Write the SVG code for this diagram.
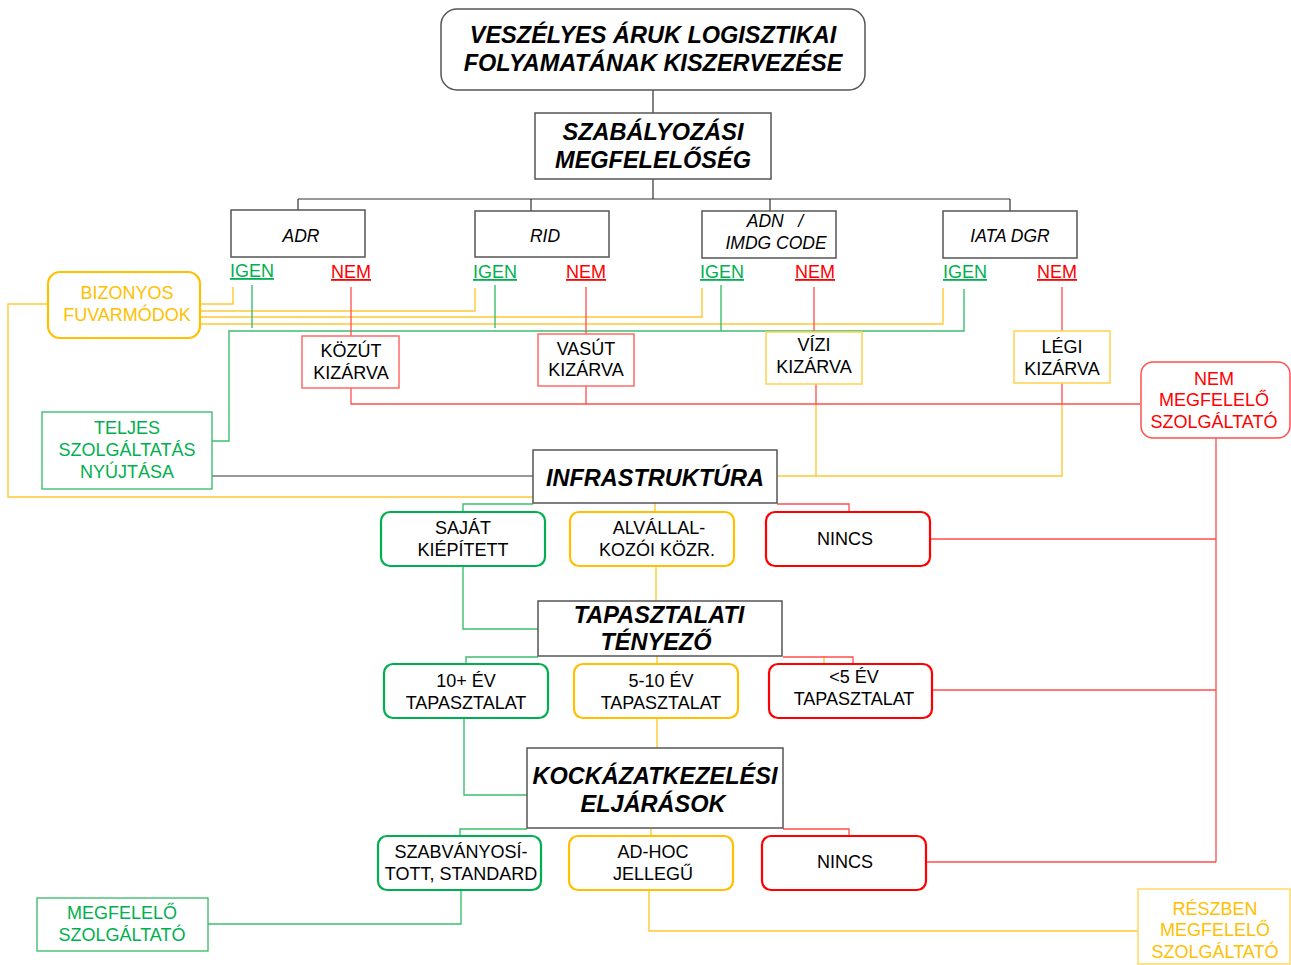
<svg xmlns="http://www.w3.org/2000/svg" width="1291" height="965" viewBox="0 0 1291 965">
<style>
text{font-family:"Liberation Sans",Arial,sans-serif;text-anchor:middle;font-size:18px;fill:#000}
.h{font-weight:bold;font-style:italic;font-size:23.5px}
.i{font-style:italic;font-size:17.5px}
.lab{font-size:18px;text-decoration:underline}
.g{fill:#00B050}.r{fill:#FF0000}.y{fill:#FFC000}
.bx{fill:#fff;stroke:#555;stroke-width:1.5}
.og{fill:#fff;stroke:#00B050;stroke-width:2.2}
.oy{fill:#fff;stroke:#FFC000;stroke-width:2.2}
.or{fill:#fff;stroke:#FF0000;stroke-width:2.2}
.tr{fill:#fff;stroke:#FF6B6B;stroke-width:1.5}
.ty{fill:#fff;stroke:#FFD34D;stroke-width:1.5}
.tg{fill:#fff;stroke:#33BB66;stroke-width:1.3}
.cb{fill:none;stroke:#333;stroke-width:1.2}
.cy{fill:none;stroke:#FFC933;stroke-width:1.4}
.cg{fill:none;stroke:#3CBF6E;stroke-width:1.4}
.cr{fill:none;stroke:#FF4D4D;stroke-width:1.3}
</style>
<g id="connectors">
<path class="cb" d="M653,90V113M653,179V199M298,199H1010M298,199V210M531,199V211M770,199V211M1010,199V211M212,476H533"/>
<path class="cy" d="M233,287V304H201M475,288V311H201M702,288V317H201M943,288V324H201M48,304H8V497H533M816,404V476M777,476H1062V404M655,503V512M656,566V601M657,656V664M824,656V664M657,718V748M651,829V836M649,890V931H1138"/>
<path class="cg" d="M252,285V328M495,285V328M721,285V331M964,289V331H229V441H212M533,504H463V512M463,566V629H538M538,657H466V664M464,718V795H527M527,829H460V836M461,890V924H208"/>
<path class="cr" d="M351,287V336M586,287V334M814,287V332M1062,287V331M351,388V404H1140M586,386V404M816,384V404M1062,383V404M777,504H849V512M783,657H853V664M783,829H849V836M1216,438V862M930,539H1216M932,690H1216M926,862H1216"/>
</g>
<g id="title"><rect class="bx" x="441" y="9" width="424" height="81" rx="16"/><text class="h" x="653" y="43">VESZÉLYES ÁRUK LOGISZTIKAI</text><text class="h" x="653" y="71">FOLYAMATÁNAK KISZERVEZÉSE</text></g>
<g id="szab"><rect class="bx" x="535" y="113" width="236" height="66"/><text class="h" x="653" y="140">SZABÁLYOZÁSI</text><text class="h" x="653" y="168">MEGFELELŐSÉG</text></g>
<g id="adr"><rect class="bx" x="231" y="210" width="134" height="47"/><text class="i" x="301" y="242">ADR</text></g>
<g id="rid"><rect class="bx" x="475" y="211" width="134" height="46"/><text class="i" x="545" y="242">RID</text></g>
<g id="adn"><rect class="bx" x="702" y="211" width="134" height="47"/><text class="i" x="775" y="227" xml:space="preserve">ADN   /</text><text class="i" x="776" y="249">IMDG CODE</text></g>
<g id="iata"><rect class="bx" x="943" y="211" width="134" height="47"/><text class="i" x="1010" y="242">IATA DGR</text></g>
<g id="labels">
<text class="lab g" x="252" y="277">IGEN</text><text class="lab r" x="351" y="278">NEM</text>
<text class="lab g" x="495" y="278">IGEN</text><text class="lab r" x="586" y="278">NEM</text>
<text class="lab g" x="722" y="278">IGEN</text><text class="lab r" x="815" y="278">NEM</text>
<text class="lab g" x="965" y="278">IGEN</text><text class="lab r" x="1057" y="278">NEM</text>
</g>
<g id="bizonyos"><rect class="oy" x="48" y="272" width="152" height="66" rx="12"/><text class="y" x="127" y="299">BIZONYOS</text><text class="y" x="127" y="321">FUVARMÓDOK</text></g>
<g id="kozut"><rect class="tr" x="302" y="336" width="97" height="52"/><text x="351" y="357">KÖZÚT</text><text x="351" y="379">KIZÁRVA</text></g>
<g id="vasut"><rect class="tr" x="538" y="334" width="96" height="52"/><text x="586" y="355">VASÚT</text><text x="586" y="376">KIZÁRVA</text></g>
<g id="vizi"><rect class="ty" x="766" y="332" width="96" height="52"/><text x="814" y="351">VÍZI</text><text x="814" y="373">KIZÁRVA</text></g>
<g id="legi"><rect class="ty" x="1014" y="331" width="96" height="52"/><text x="1062" y="353">LÉGI</text><text x="1062" y="375">KIZÁRVA</text></g>
<g id="nemmegf"><rect x="1141" y="362" width="149" height="76" rx="12" fill="#fff" stroke="#FF5050" stroke-width="1.5"/><text class="r" x="1214" y="385">NEM</text><text class="r" x="1214" y="406">MEGFELELŐ</text><text class="r" x="1214" y="428">SZOLGÁLTATÓ</text></g>
<g id="teljes"><rect class="tg" x="42" y="412" width="170" height="77"/><text class="g" x="127" y="434">TELJES</text><text class="g" x="127" y="456">SZOLGÁLTATÁS</text><text class="g" x="127" y="478">NYÚJTÁSA</text></g>
<g id="infra"><rect class="bx" x="533" y="450" width="244" height="53"/><text class="h" x="655" y="486">INFRASTRUKTÚRA</text></g>
<g id="sajat"><rect class="og" x="381" y="512" width="164" height="54" rx="9"/><text x="463" y="534">SAJÁT</text><text x="463" y="556">KIÉPÍTETT</text></g>
<g id="alval"><rect class="oy" x="570" y="512" width="164" height="54" rx="9"/><text x="659" y="534">ALVÁLLAL-</text><text x="657" y="556">KOZÓI KÖZR.</text></g>
<g id="nincs1"><rect class="or" x="766" y="512" width="164" height="54" rx="9"/><text x="845" y="545">NINCS</text></g>
<g id="tapaszt"><rect class="bx" x="538" y="601" width="244" height="55"/><text class="h" x="659" y="623">TAPASZTALATI</text><text class="h" x="656" y="650">TÉNYEZŐ</text></g>
<g id="ev10"><rect class="og" x="384" y="664" width="164" height="54" rx="9"/><text x="466" y="687">10+ ÉV</text><text x="466" y="709">TAPASZTALAT</text></g>
<g id="ev5_10"><rect class="oy" x="574" y="664" width="164" height="54" rx="9"/><text x="661" y="687">5-10 ÉV</text><text x="661" y="709">TAPASZTALAT</text></g>
<g id="ev5"><rect class="or" x="769" y="664" width="163" height="54" rx="9"/><text x="854" y="683">&lt;5 ÉV</text><text x="854" y="705">TAPASZTALAT</text></g>
<g id="kock"><rect class="bx" x="527" y="748" width="256" height="80"/><text class="h" x="655" y="784">KOCKÁZATKEZELÉSI</text><text class="h" x="653" y="812">ELJÁRÁSOK</text></g>
<g id="szabv"><rect class="og" x="378" y="836" width="163" height="54" rx="9"/><text x="461" y="858">SZABVÁNYOSÍ-</text><text x="461" y="880">TOTT, STANDARD</text></g>
<g id="adhoc"><rect class="oy" x="569" y="836" width="164" height="54" rx="9"/><text x="653" y="858">AD-HOC</text><text x="653" y="880">JELLEGŰ</text></g>
<g id="nincs2"><rect class="or" x="762" y="836" width="164" height="54" rx="9"/><text x="845" y="868">NINCS</text></g>
<g id="megfelelo"><rect class="tg" x="37" y="898" width="171" height="53"/><text class="g" x="122" y="919">MEGFELELŐ</text><text class="g" x="122" y="941">SZOLGÁLTATÓ</text></g>
<g id="reszben"><rect x="1138" y="889" width="152" height="75" fill="#fff" stroke="#FFD966" stroke-width="1.5"/><text class="y" x="1215" y="915">RÉSZBEN</text><text class="y" x="1215" y="936">MEGFELELŐ</text><text class="y" x="1215" y="958">SZOLGÁLTATÓ</text></g>
</svg>
